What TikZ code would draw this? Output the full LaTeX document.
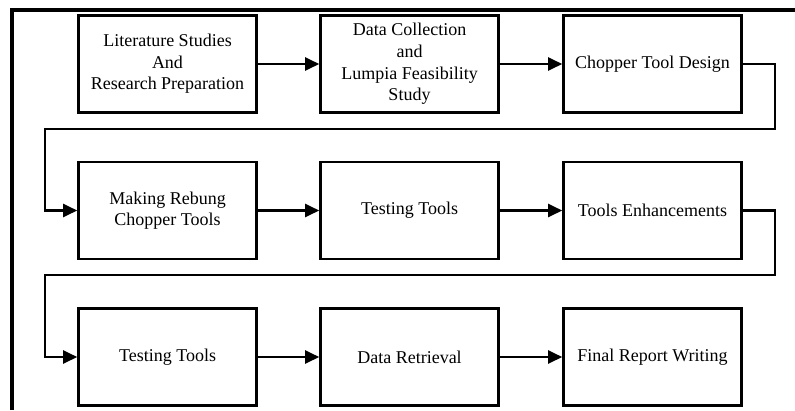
\documentclass[tikz,border=0pt]{standalone}
\usepackage{fontspec}
\setmainfont{Liberation Serif}
\usetikzlibrary{arrows.meta}

\tikzset{stage/.style={draw, shape=rectangle, line width=2.6pt, minimum width=178pt, minimum height=97pt, inner sep=2pt, align=center, font=\fontsize{18}{21.6}\selectfont}}
\tikzset{flow/.style={-{Triangle[length=14pt, width=13pt]}, line width=2.3pt}}

\begin{document}
\begin{tikzpicture}[x=1pt, y=-1pt]
\useasboundingbox (0,0) rectangle (795,410);
% page frame
\draw[line width=4pt] (12,410) -- (12,10) -- (795,10);
% first row
\node[stage] (lit) at (167.5,64) {Literature Studies\\And\\Research Preparation};
\node[stage, right of=lit, node distance=242pt] (data) {Data Collection\\and\\Lumpia Feasibility\\Study};
\node[stage, right of=data, node distance=243pt] (design) {Chopper Tool Design};
% second row
\node[stage, below of=lit, node distance=146.5pt] (making) {Making Rebung\\Chopper Tools};
\node[stage, right of=making, node distance=242pt] (test) {Testing Tools};
\node[stage, right of=test, node distance=243pt] (enh) {Tools Enhancements};
% third row
\node[stage, below of=making, node distance=146.5pt] (retest) {Testing Tools};
\node[stage, right of=retest, node distance=242pt] (retr) {Data Retrieval};
\node[stage, right of=retr, node distance=243pt] (report) {Final Report Writing};
% turning points
\coordinate (wrapa) at (775,129);
\coordinate (wrapb) at (45,129);
\coordinate (wrapc) at (775,275);
\coordinate (wrapd) at (45,275);
\draw[flow] (lit) -- (data);
\draw[flow] (data) -- (design);
\draw[flow] (design.east) -| (wrapa) -- (wrapb) |- (making.west);
\draw[flow] (making) -- (test);
\draw[flow] (test) -- (enh);
\draw[flow] (enh.east) -| (wrapc) -- (wrapd) |- (retest.west);
\draw[flow] (retest) -- (retr);
\draw[flow] (retr) -- (report);
\end{tikzpicture}
\end{document}
